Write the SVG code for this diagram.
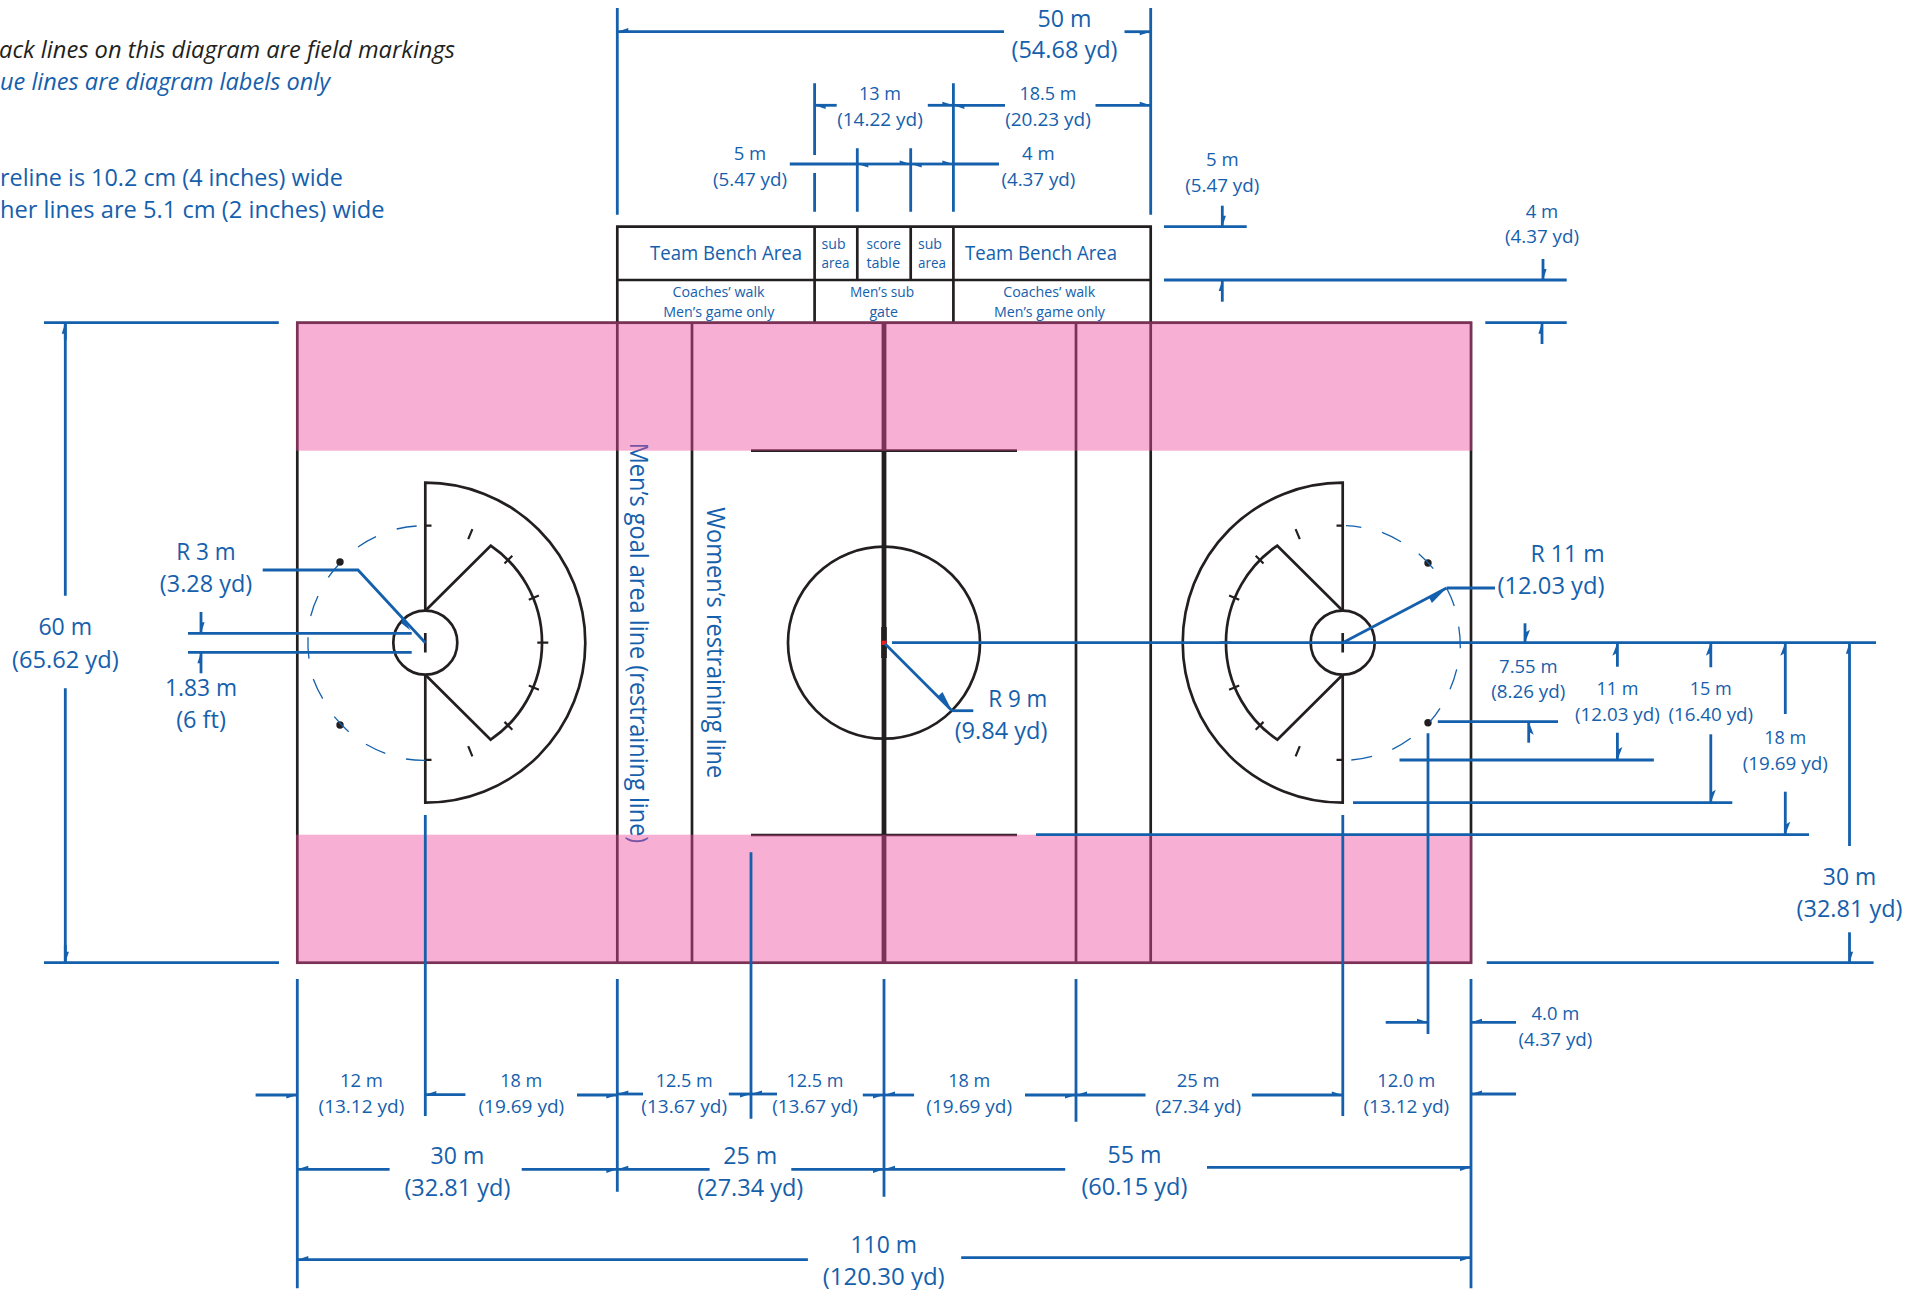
<svg xmlns="http://www.w3.org/2000/svg" width="1912" height="1290" viewBox="0 0 1912 1290">
<style>
.k{fill:none;stroke:#231f20;stroke-width:2.7}
.t{fill:none;stroke:#231f20;stroke-width:2.2}
.b{fill:none;stroke:#1560ac;stroke-width:2.8}
.n{fill:none;stroke:#1560ac;stroke-width:1.3}
.pink{fill:#ee4a9b;fill-opacity:.445}
text{font-family:"Open Sans","Noto Sans",sans-serif;fill:#1560ac;text-anchor:middle}
.s24{font-size:24px}.s19{font-size:18.8px}.s15{font-size:15px}.s20{font-size:19.8px}.s14{font-size:14.5px}.s26{font-size:26px}
.st{text-anchor:start}
.it{font-style:italic}
.blk{fill:#231f20}
.a1{marker-end:url(#m1)}.a2{marker-end:url(#m2)}.c1{marker-end:url(#b1)}.c2{marker-end:url(#b2)}.r1{marker-end:url(#r1)}.r2{marker-end:url(#r2)}
</style>
<defs>
<marker id="m1" markerUnits="userSpaceOnUse" markerWidth="1" markerHeight="1" orient="auto" overflow="visible"><path d="M0 0L-11 3.6L-11 0Z" fill="#1560ac"/></marker>
<marker id="m2" markerUnits="userSpaceOnUse" markerWidth="1" markerHeight="1" orient="auto" overflow="visible"><path d="M0 0L-11 -3.6L-11 0Z" fill="#1560ac"/></marker>
<marker id="b1" markerUnits="userSpaceOnUse" markerWidth="1" markerHeight="1" orient="auto" overflow="visible"><path d="M0 0L-13 5L-10 0Z" fill="#1560ac"/></marker>
<marker id="b2" markerUnits="userSpaceOnUse" markerWidth="1" markerHeight="1" orient="auto" overflow="visible"><path d="M0 0L-13 -5L-10 0Z" fill="#1560ac"/></marker>
<marker id="r1" markerUnits="userSpaceOnUse" markerWidth="1" markerHeight="1" orient="auto" overflow="visible"><path d="M0 0L-20 6.5L-20 0Z" fill="#1560ac"/></marker>
<marker id="r2" markerUnits="userSpaceOnUse" markerWidth="1" markerHeight="1" orient="auto" overflow="visible"><path d="M0 0L-20 -6.5L-20 0Z" fill="#1560ac"/></marker>
<g id="goal-shape">
<path class="k" d="M425.3 610.7V482.7A160 160 0 0 1 425.3 802.7V674.7"/>
<path class="k" d="M425.3 610.7L490.7 545.7A117.3 117.3 0 0 1 490.7 739.7L425.3 674.7"/>
<circle class="k" cx="425.3" cy="642.7" r="32"/>
<path class="k" d="M425.3 633V652.5"/>
<path class="t" d="M537.3 642.7H548.3M528.8 599.8L538.9 595.6M528.8 685.6L538.9 689.8M504.5 563.5L512.3 555.7M504.5 721.9L512.3 729.7M468.2 539.2L472.4 529.1M468.2 746.2L472.4 756.3M425.3 525.6H431.5M425.3 759.8H431.5"/>
</g>
</defs>
<rect width="1912" height="1290" fill="#fff"/>
<g id="legend">
<text class="s24 st it blk" x="-1" y="58" textLength="456" lengthAdjust="spacingAndGlyphs">ack lines on this diagram are field markings</text>
<text class="s24 st it" x="0" y="90" textLength="330" lengthAdjust="spacingAndGlyphs">ue lines are diagram labels only</text>
<text class="s24 st" x="0" y="186" textLength="343" lengthAdjust="spacingAndGlyphs">reline is 10.2 cm (4 inches) wide</text>
<text class="s24 st" x="0" y="218" textLength="384.5" lengthAdjust="spacingAndGlyphs">her lines are 5.1 cm (2 inches) wide</text>
</g>
<g id="bench-area">
<path class="k" d="M617.3 322.7V226.7H1150.7V322.7M617.3 280H1150.7M814.6 226.7V322.7M953.4 226.7V322.7M857.3 226.7V280M910.7 226.7V280"/>
<text class="s20" x="726" y="260" textLength="152" lengthAdjust="spacingAndGlyphs">Team Bench Area</text>
<text class="s20" x="1041" y="260" textLength="152" lengthAdjust="spacingAndGlyphs">Team Bench Area</text>
<text class="s14 st" x="821.6" y="249.3" textLength="24" lengthAdjust="spacingAndGlyphs">sub</text>
<text class="s14 st" x="821.6" y="268.3" textLength="27.8" lengthAdjust="spacingAndGlyphs">area</text>
<text class="s14 st" x="866.5" y="249.3" textLength="34.3" lengthAdjust="spacingAndGlyphs">score</text>
<text class="s14 st" x="866.5" y="268.3" textLength="33.5" lengthAdjust="spacingAndGlyphs">table</text>
<text class="s14 st" x="918" y="249.3" textLength="24" lengthAdjust="spacingAndGlyphs">sub</text>
<text class="s14 st" x="918" y="268.3" textLength="27.8" lengthAdjust="spacingAndGlyphs">area</text>
<text class="s15" x="718.5" y="297.3" textLength="92" lengthAdjust="spacingAndGlyphs">Coaches’ walk</text>
<text class="s15" x="718.8" y="316.7" textLength="111" lengthAdjust="spacingAndGlyphs">Men’s game only</text>
<text class="s15" x="882" y="297.3" textLength="64" lengthAdjust="spacingAndGlyphs">Men’s sub</text>
<text class="s15" x="883.7" y="316.7" textLength="28.6" lengthAdjust="spacingAndGlyphs">gate</text>
<text class="s15" x="1049.2" y="297.3" textLength="92" lengthAdjust="spacingAndGlyphs">Coaches’ walk</text>
<text class="s15" x="1049.4" y="316.7" textLength="111" lengthAdjust="spacingAndGlyphs">Men’s game only</text>
</g>
<g id="field">
<rect class="k" x="297.3" y="322.7" width="1173.7" height="640"/>
<path class="k" d="M617.3 322.7V962.7M692 322.7V962.7M1076 322.7V962.7M1150.7 322.7V962.7M751 450.7H1017M751 835H1017"/>
<text class="s26 st" transform="rotate(90 630 442.7)" x="630" y="442.7" textLength="400.6" lengthAdjust="spacingAndGlyphs">Men’s goal area line (restraining line)</text>
<text class="s26 st" transform="rotate(90 706.7 507.3)" x="706.7" y="507.3" textLength="271" lengthAdjust="spacingAndGlyphs">Women’s restraining line</text>
</g>
<g id="center-circle">
<circle class="k" cx="884" cy="642.7" r="96"/>
<path d="M884 322.7V962.7" fill="none" stroke="#231f20" stroke-width="4.8"/>
<rect x="881.2" y="627" width="5.6" height="31" fill="#231f20"/>
<rect x="881.7" y="640.7" width="5" height="4.3" fill="#ed1c24"/>
</g>
<g id="left-goal">
<use href="#goal-shape"/>
<circle cx="340" cy="562" r="3.7" fill="#231f20"/>
<circle cx="340" cy="725" r="3.7" fill="#231f20"/>
</g>
<g id="right-goal">
<use href="#goal-shape" transform="matrix(-1 0 0 1 1768 0)"/>
<circle cx="1428" cy="563" r="3.7" fill="#231f20"/>
<circle cx="1428" cy="722.7" r="3.7" fill="#231f20"/>
</g>
<g id="pink-bands">
<rect class="pink" x="296" y="321.4" width="1176.3" height="129.3"/>
<rect class="pink" x="296" y="834.7" width="1176.3" height="129.3"/>
</g>
<g id="connectors">
<path class="n" d="M416.7 526A117.3 117.3 0 0 0 396.7 529M376 536.7A117.3 117.3 0 0 0 358 547M338.3 565A117.3 117.3 0 0 0 328.3 577.3M318 596A117.3 117.3 0 0 0 310.7 616M308 637.3A117.3 117.3 0 0 0 309 658.7M313.3 679A117.3 117.3 0 0 0 322.7 698.7M334.3 716.7A117.3 117.3 0 0 0 348.7 731.7M366 744.3A117.3 117.3 0 0 0 385.3 753.3M406 759A117.3 117.3 0 0 0 425.3 760.3"/>
<path class="n" d="M1346 525.7A117.3 117.3 0 0 1 1361.3 527.3M1382 532.3A117.3 117.3 0 0 1 1401 541.7M1418.7 553.7A117.3 117.3 0 0 1 1433.3 568.7M1446.7 588.3A117.3 117.3 0 0 1 1454.3 606M1458.7 626.7A117.3 117.3 0 0 1 1460.3 648.3M1456.7 669.3A117.3 117.3 0 0 1 1450 689.3M1440 708.3A117.3 117.3 0 0 1 1430 721.7M1410.7 738.3A117.3 117.3 0 0 1 1392.3 749.3M1372 756.3A117.3 117.3 0 0 1 1351.3 760"/>
<path class="b" d="M617.3 8V214.7M1150.7 8V214.7M814.6 83.3V155M814.6 173V211.7M953.4 83.3V211.7M857.3 148.3V211.7M910.7 148.3V211.7"/>
<path class="b" d="M1164 226.7H1246.7M1164 280H1566.7M1485.3 322.7H1566.7M44 322.7H278.8M44 962.7H279"/>
<path class="b" d="M65.3 322.7V595.7M65.3 688.3V962.7"/>
<path class="b" d="M188 633.3H411.7M188 652.3H411.7M262.7 570H358L425.3 642.7"/>
<path class="b" d="M892 642.7H1876M1437.8 721.7H1558M1399.5 760H1653.9M1353 802.7H1732.3M1036 834.7H1809M1486.7 962.7H1873.6"/>
<path class="b" d="M1428 733.3V1034M1342.8 815V1116M425.3 815V1116M751 852.3V1118.7"/>
<path class="b" d="M297.3 979V1288.3M617.3 979V1191.7M884 979V1196.7M1076 979V1121.7M1471 979V1288.3"/>
<line class="b a1" x1="1004" y1="31.7" x2="617.3" y2="31.7"/>
<line class="b a1" x1="1124.5" y1="31.7" x2="1150.7" y2="31.7"/>
<line class="b a2" x1="836.7" y1="105.3" x2="814.6" y2="105.3"/>
<line class="b a2" x1="927.8" y1="105.3" x2="953.4" y2="105.3"/>
<line class="b a2" x1="1005" y1="105.3" x2="953.4" y2="105.3"/>
<line class="b a2" x1="1095.5" y1="105.3" x2="1150.7" y2="105.3"/>
<line class="b" x1="789.8" y1="164" x2="857.3" y2="164"/>
<line class="b a2" x1="884" y1="164" x2="857.3" y2="164"/>
<line class="b a2" x1="884" y1="164" x2="910.7" y2="164"/>
<line class="b a2" x1="932" y1="164" x2="910.7" y2="164"/>
<line class="b a2" x1="932" y1="164" x2="953.4" y2="164"/>
<line class="b" x1="953.4" y1="164" x2="999" y2="164"/>
<line class="b a2" x1="1222.3" y1="205.7" x2="1222.3" y2="226.7"/>
<line class="b a2" x1="1222.3" y1="301.7" x2="1222.3" y2="280"/>
<line class="b a2" x1="1543" y1="259" x2="1543" y2="280"/>
<line class="b a2" x1="1542" y1="344" x2="1542" y2="322.7"/>
<line class="b a2" x1="65.3" y1="340" x2="65.3" y2="322.7"/>
<line class="b a2" x1="65.3" y1="945" x2="65.3" y2="962.7"/>
<line class="b a2" x1="201" y1="612" x2="201" y2="633.3"/>
<line class="b a2" x1="201" y1="673.3" x2="201" y2="652.3"/>
<path d="M410.5 630.5L403 617.5L401 623Z" fill="#1560ac"/>
<line class="b r2" x1="885" y1="643.7" x2="952" y2="710.7"/>
<line class="b" x1="952" y1="710.7" x2="973.3" y2="710.7"/>
<line class="b r1" x1="1342.7" y1="642.7" x2="1446.6" y2="588"/>
<line class="b" x1="1446.6" y1="588" x2="1495" y2="588"/>
<line class="b c2" x1="1525" y1="623.3" x2="1525" y2="642.7"/>
<line class="b c1" x1="1528.7" y1="742.7" x2="1528.7" y2="721.7"/>
<line class="b c2" x1="1617.4" y1="666.7" x2="1617.4" y2="642.7"/>
<line class="b c2" x1="1617.4" y1="732.7" x2="1617.4" y2="760"/>
<line class="b c2" x1="1710.8" y1="667.3" x2="1710.8" y2="642.7"/>
<line class="b c2" x1="1710.8" y1="734.3" x2="1710.8" y2="802.7"/>
<line class="b c2" x1="1785.3" y1="714" x2="1785.3" y2="642.7"/>
<line class="b c2" x1="1785.3" y1="791.7" x2="1785.3" y2="834.7"/>
<line class="b a2" x1="1849.5" y1="846" x2="1849.5" y2="642.7"/>
<line class="b a2" x1="1849.5" y1="932.3" x2="1849.5" y2="962.7"/>
<line class="b a1" x1="255.6" y1="1095" x2="297.3" y2="1095"/>
<line class="b a1" x1="465.4" y1="1094.7" x2="425.3" y2="1094.7"/>
<line class="b a1" x1="577" y1="1095" x2="617.3" y2="1095"/>
<line class="b a1" x1="643" y1="1094" x2="617.3" y2="1094"/>
<line class="b a1" x1="728.8" y1="1094" x2="751" y2="1094"/>
<line class="b a1" x1="777" y1="1094" x2="751" y2="1094"/>
<line class="b a1" x1="862.8" y1="1095" x2="884" y2="1095"/>
<line class="b a1" x1="914" y1="1095" x2="884" y2="1095"/>
<line class="b a1" x1="1025" y1="1095" x2="1076" y2="1095"/>
<line class="b a1" x1="1145.5" y1="1095" x2="1076" y2="1095"/>
<line class="b a2" x1="1251.8" y1="1095" x2="1342.8" y2="1095"/>
<line class="b a1" x1="1516" y1="1094" x2="1471" y2="1094"/>
<line class="b a2" x1="1385.7" y1="1022.3" x2="1428" y2="1022.3"/>
<line class="b a1" x1="1516" y1="1022.3" x2="1471" y2="1022.3"/>
<line class="b a1" x1="389.6" y1="1169.3" x2="297.3" y2="1169.3"/>
<line class="b a1" x1="521.7" y1="1169.3" x2="617.3" y2="1169.3"/>
<line class="b a1" x1="709.6" y1="1169.3" x2="617.3" y2="1169.3"/>
<line class="b a1" x1="791.3" y1="1169.3" x2="884" y2="1169.3"/>
<line class="b a1" x1="1065.2" y1="1169.3" x2="884" y2="1169.3"/>
<line class="b a1" x1="1207" y1="1167.3" x2="1471" y2="1167.3"/>
<line class="b a1" x1="807.9" y1="1259.7" x2="297.3" y2="1259.7"/>
<line class="b a1" x1="961.2" y1="1257.7" x2="1471" y2="1257.7"/>
</g>
<g id="labels">
<text class="s24" x="1064.5" y="26.7" textLength="54" lengthAdjust="spacingAndGlyphs">50 m</text>
<text class="s24" x="1064.5" y="58.3" textLength="106" lengthAdjust="spacingAndGlyphs">(54.68 yd)</text>
<text class="s19" x="880" y="100" textLength="42" lengthAdjust="spacingAndGlyphs">13 m</text>
<text class="s19" x="880" y="126" textLength="85.7" lengthAdjust="spacingAndGlyphs">(14.22 yd)</text>
<text class="s19" x="1048" y="100" textLength="57" lengthAdjust="spacingAndGlyphs">18.5 m</text>
<text class="s19" x="1048" y="126" textLength="85.7" lengthAdjust="spacingAndGlyphs">(20.23 yd)</text>
<text class="s19" x="750" y="160" textLength="32.6" lengthAdjust="spacingAndGlyphs">5 m</text>
<text class="s19" x="750" y="186" textLength="74" lengthAdjust="spacingAndGlyphs">(5.47 yd)</text>
<text class="s19" x="1038.4" y="160" textLength="32.6" lengthAdjust="spacingAndGlyphs">4 m</text>
<text class="s19" x="1038.4" y="186" textLength="74" lengthAdjust="spacingAndGlyphs">(4.37 yd)</text>
<text class="s19" x="1222.3" y="166" textLength="32.6" lengthAdjust="spacingAndGlyphs">5 m</text>
<text class="s19" x="1222.3" y="191.7" textLength="74" lengthAdjust="spacingAndGlyphs">(5.47 yd)</text>
<text class="s19" x="1542" y="217.7" textLength="32.6" lengthAdjust="spacingAndGlyphs">4 m</text>
<text class="s19" x="1542" y="243.3" textLength="74" lengthAdjust="spacingAndGlyphs">(4.37 yd)</text>
<text class="s24" x="65.3" y="635" textLength="53.7" lengthAdjust="spacingAndGlyphs">60 m</text>
<text class="s24" x="65.3" y="667.7" textLength="106.7" lengthAdjust="spacingAndGlyphs">(65.62 yd)</text>
<text class="s24" x="206" y="560" textLength="59.3" lengthAdjust="spacingAndGlyphs">R 3 m</text>
<text class="s24" x="206" y="592.3" textLength="92.3" lengthAdjust="spacingAndGlyphs">(3.28 yd)</text>
<text class="s24" x="201" y="696" textLength="72" lengthAdjust="spacingAndGlyphs">1.83 m</text>
<text class="s24" x="201" y="727.7" textLength="49.7" lengthAdjust="spacingAndGlyphs">(6 ft)</text>
<text class="s24" x="1017.8" y="706.7" textLength="59" lengthAdjust="spacingAndGlyphs">R 9 m</text>
<text class="s24" x="1001" y="739.3" textLength="92.7" lengthAdjust="spacingAndGlyphs">(9.84 yd)</text>
<text class="s24" x="1567.6" y="561.7" textLength="74" lengthAdjust="spacingAndGlyphs">R 11 m</text>
<text class="s24" x="1551" y="594" textLength="107" lengthAdjust="spacingAndGlyphs">(12.03 yd)</text>
<text class="s19" x="1528.3" y="672.7" textLength="58.4" lengthAdjust="spacingAndGlyphs">7.55 m</text>
<text class="s19" x="1528.3" y="698.3" textLength="74" lengthAdjust="spacingAndGlyphs">(8.26 yd)</text>
<text class="s19" x="1617.4" y="695" textLength="42" lengthAdjust="spacingAndGlyphs">11 m</text>
<text class="s19" x="1617.4" y="721" textLength="84.7" lengthAdjust="spacingAndGlyphs">(12.03 yd)</text>
<text class="s19" x="1710.8" y="695" textLength="42" lengthAdjust="spacingAndGlyphs">15 m</text>
<text class="s19" x="1710.8" y="721" textLength="84.7" lengthAdjust="spacingAndGlyphs">(16.40 yd)</text>
<text class="s19" x="1785.3" y="744" textLength="42" lengthAdjust="spacingAndGlyphs">18 m</text>
<text class="s19" x="1785.3" y="770" textLength="85" lengthAdjust="spacingAndGlyphs">(19.69 yd)</text>
<text class="s24" x="1849.5" y="885" textLength="53.3" lengthAdjust="spacingAndGlyphs">30 m</text>
<text class="s24" x="1849.5" y="917.3" textLength="105.8" lengthAdjust="spacingAndGlyphs">(32.81 yd)</text>
<text class="s19" x="1555.4" y="1020" textLength="47.8" lengthAdjust="spacingAndGlyphs">4.0 m</text>
<text class="s19" x="1555.4" y="1046" textLength="74" lengthAdjust="spacingAndGlyphs">(4.37 yd)</text>
<text class="s19" x="361.4" y="1087.3" textLength="43" lengthAdjust="spacingAndGlyphs">12 m</text>
<text class="s19" x="361.4" y="1113.3" textLength="85.7" lengthAdjust="spacingAndGlyphs">(13.12 yd)</text>
<text class="s19" x="521.3" y="1087.3" textLength="42" lengthAdjust="spacingAndGlyphs">18 m</text>
<text class="s19" x="521.3" y="1113.3" textLength="85.7" lengthAdjust="spacingAndGlyphs">(19.69 yd)</text>
<text class="s19" x="684.2" y="1087.3" textLength="57" lengthAdjust="spacingAndGlyphs">12.5 m</text>
<text class="s19" x="684.2" y="1113.3" textLength="85.7" lengthAdjust="spacingAndGlyphs">(13.67 yd)</text>
<text class="s19" x="815" y="1087.3" textLength="57" lengthAdjust="spacingAndGlyphs">12.5 m</text>
<text class="s19" x="815" y="1113.3" textLength="85.7" lengthAdjust="spacingAndGlyphs">(13.67 yd)</text>
<text class="s19" x="969.2" y="1087.3" textLength="42" lengthAdjust="spacingAndGlyphs">18 m</text>
<text class="s19" x="969.2" y="1113.3" textLength="85.7" lengthAdjust="spacingAndGlyphs">(19.69 yd)</text>
<text class="s19" x="1198.2" y="1087.3" textLength="43" lengthAdjust="spacingAndGlyphs">25 m</text>
<text class="s19" x="1198.2" y="1113.3" textLength="85.7" lengthAdjust="spacingAndGlyphs">(27.34 yd)</text>
<text class="s19" x="1406.3" y="1087.3" textLength="58" lengthAdjust="spacingAndGlyphs">12.0 m</text>
<text class="s19" x="1406.3" y="1113.3" textLength="85.7" lengthAdjust="spacingAndGlyphs">(13.12 yd)</text>
<text class="s24" x="457.4" y="1164" textLength="53.6" lengthAdjust="spacingAndGlyphs">30 m</text>
<text class="s24" x="457.4" y="1196" textLength="106" lengthAdjust="spacingAndGlyphs">(32.81 yd)</text>
<text class="s24" x="750.3" y="1164" textLength="54" lengthAdjust="spacingAndGlyphs">25 m</text>
<text class="s24" x="750.3" y="1196" textLength="106" lengthAdjust="spacingAndGlyphs">(27.34 yd)</text>
<text class="s24" x="1134.4" y="1162.7" textLength="54" lengthAdjust="spacingAndGlyphs">55 m</text>
<text class="s24" x="1134.4" y="1195" textLength="106" lengthAdjust="spacingAndGlyphs">(60.15 yd)</text>
<text class="s24" x="883.7" y="1252.7" textLength="66.5" lengthAdjust="spacingAndGlyphs">110 m</text>
<text class="s24" x="883.7" y="1285" textLength="122" lengthAdjust="spacingAndGlyphs">(120.30 yd)</text>
</g>
</svg>
